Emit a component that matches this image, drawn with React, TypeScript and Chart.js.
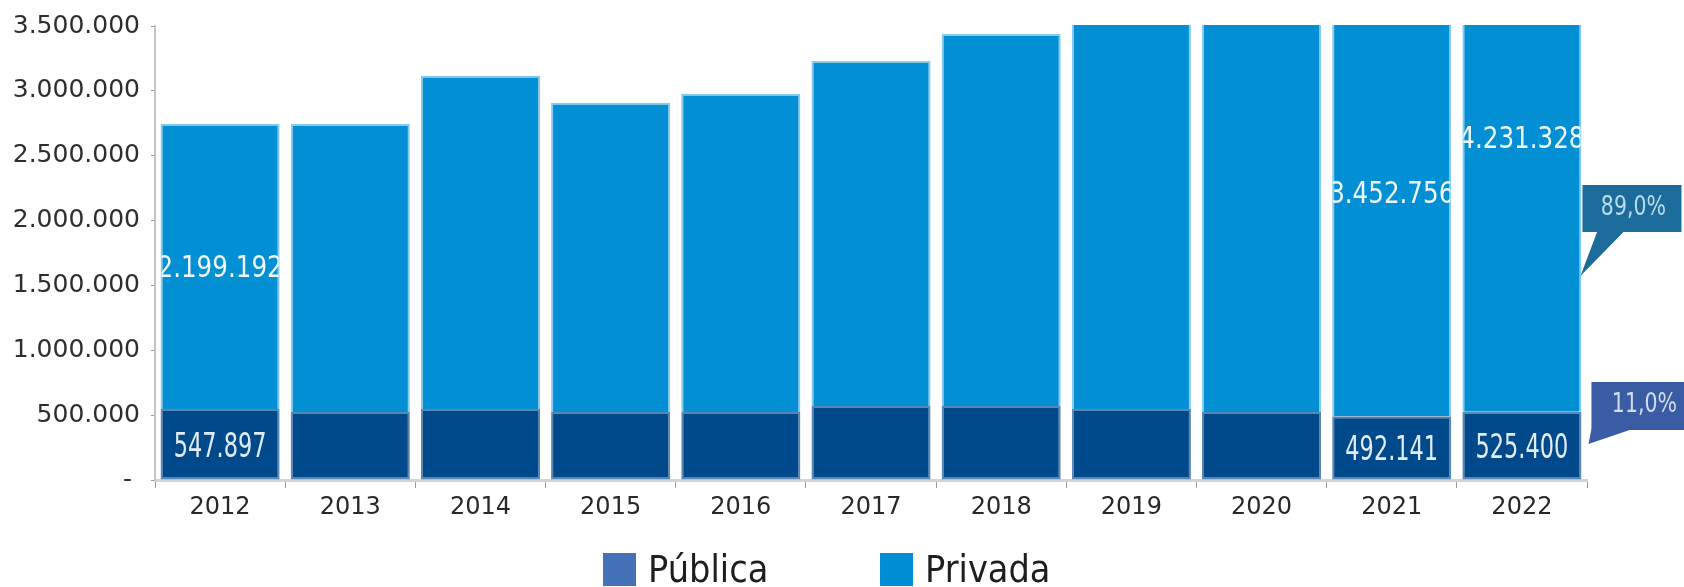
import React, { useEffect, useRef } from 'react';
import { Chart, registerables } from 'chart.js';

Chart.register(...registerables);

// ---- data ----
const years = ['2012', '2013', '2014', '2015', '2016', '2017', '2018', '2019', '2020', '2021', '2022'];
const seriesNames = ['Pública', 'Privada'];
const publica = [547897, 525000, 548000, 525000, 525000, 570000, 570000, 548000, 525000, 492141, 525400];
const privada = [2199192, 2220000, 2568000, 2384000, 2453000, 2661000, 2869000, 3085000, 3240000, 3452756, 4231328];
const labeledYears = ['2012', '2021', '2022'];
const yMin = 0;
const yMax = 3500000;
const yStep = 500000;

// ---- styles ----
const barColors = ['#004a8c', '#028fd4'];
const barBorders = ['#5a86b4', '#86cbee'];
const legendColors = ['#4472b8', '#008fd5'];
const FONT = '"DejaVu Sans", "Liberation Sans", sans-serif';

const fmt = (n: number) => Math.round(n).toString().replace(/\B(?=(\d{3})+(?!\d))/g, '.');
const pct = (a: number, b: number) => ((a / (a + b)) * 100).toFixed(1).replace('.', ',') + '%';

function drawStretched(
  ctx: CanvasRenderingContext2D,
  text: string,
  cx: number,
  cy: number,
  size: number,
  sx: number,
  color: string,
  align: CanvasTextAlign = 'center'
) {
  ctx.save();
  ctx.translate(cx, cy + size * 0.729 / 2);
  ctx.scale(sx, 1);
  ctx.font = `${size}px ${FONT}`;
  ctx.fillStyle = color;
  ctx.textAlign = align;
  ctx.textBaseline = 'alphabetic';
  ctx.fillText(text, 0, 0);
  ctx.restore();
}

const overlayPlugin = {
  id: 'overlay',
  afterDatasetsDraw(chart: any) {
    const ctx: CanvasRenderingContext2D = chart.ctx;
    const area = chart.chartArea;
    chart.data.datasets.forEach((ds: any, di: number) => {
      const meta = chart.getDatasetMeta(di);
      meta.data.forEach((bar: any, i: number) => {
        if (!labeledYears.includes(years[i])) return;
        const { x, y, base, width } = bar.getProps(['x', 'y', 'base', 'width'], true);
        const top = Math.min(y, base);
        const bottom = Math.max(y, base);
        const cy = (top + bottom) / 2;
        ctx.save();
        ctx.beginPath();
        ctx.rect(x - width / 2 + 1, Math.max(top, area.top), width - 2, bottom - Math.max(top, area.top));
        ctx.clip();
        if (di === 0) {
          drawStretched(ctx, fmt(ds.data[i]), x, cy, 34, 0.66, '#e2ecf7');
        } else {
          drawStretched(ctx, fmt(ds.data[i]), x, cy, 30, 0.82, '#eef8ff');
        }
        ctx.restore();
      });
    });

    // callouts for the last year
    const last = years.length - 1;
    const bar = chart.getDatasetMeta(1).data[last];
    const { x, width } = bar.getProps(['x', 'width'], true);
    const xr = x + width / 2;

    // Privada share callout
    ctx.save();
    ctx.fillStyle = '#1b6b9b';
    ctx.fillRect(xr + 1, 185, 99, 47);
    ctx.beginPath();
    ctx.moveTo(xr + 16, 231);
    ctx.lineTo(xr + 43, 231);
    ctx.lineTo(xr - 1, 276);
    ctx.closePath();
    ctx.fill();
    ctx.restore();
    drawStretched(ctx, pct(privada[last], publica[last]), xr + 52, 205, 27, 0.76, '#b8dcef');

    // Pública share callout
    ctx.save();
    ctx.fillStyle = '#3a5ca5';
    ctx.fillRect(xr + 10, 382, 100, 48);
    ctx.beginPath();
    ctx.moveTo(xr + 10, 429);
    ctx.lineTo(xr + 51, 429);
    ctx.lineTo(xr + 7, 444);
    ctx.closePath();
    ctx.fill();
    ctx.restore();
    drawStretched(ctx, pct(publica[last], privada[last]), xr + 63, 402, 27, 0.76, '#cfdcf2');
  },
  afterDraw(chart: any) {
    const ctx: CanvasRenderingContext2D = chart.ctx;
    const left = chart.chartArea.left;
    const items = [
      { x: left + 448, text: seriesNames[0], color: legendColors[0] },
      { x: left + 725, text: seriesNames[1], color: legendColors[1] },
    ];
    items.forEach((it) => {
      ctx.save();
      ctx.fillStyle = it.color;
      ctx.fillRect(it.x, 553, 33, 33);
      ctx.restore();
      drawStretched(ctx, it.text, it.x + 45, 569, 37, 0.91, '#1e1e1e', 'left');
    });
  },
};

export default function App() {
  const ref = useRef<HTMLCanvasElement>(null);

  useEffect(() => {
    if (!ref.current) return;
    const chart = new Chart(ref.current, {
      type: 'bar',
      data: {
        labels: years,
        datasets: [
          {
            label: seriesNames[0],
            data: publica,
            backgroundColor: barColors[0],
            borderColor: barBorders[0],
            borderWidth: 2,
            borderSkipped: false,
            barPercentage: 0.915,
            categoryPercentage: 1,
          },
          {
            label: seriesNames[1],
            data: privada,
            backgroundColor: barColors[1],
            borderColor: barBorders[1],
            borderWidth: 2,
            borderSkipped: 'start',
            barPercentage: 0.915,
            categoryPercentage: 1,
            clip: { top: 1, left: false, right: false, bottom: false } as any,
          },
        ],
      },
      options: {
        responsive: false,
        animation: false,
        layout: { padding: { left: 0, right: 97, top: 24, bottom: 0 } },
        plugins: {
          legend: { display: false },
          tooltip: { enabled: false },
        },
        scales: {
          x: {
            stacked: true,
            border: { color: '#d4d4d4', width: 3 },
            grid: { drawOnChartArea: false, tickLength: 8, tickColor: '#9a9a9a', offset: true },
            ticks: { color: '#282828', font: { family: FONT, size: 24 }, padding: 5 },
            afterFit: (s: any) => { s.height = 107; },
          },
          y: {
            stacked: true,
            min: yMin,
            max: yMax,
            border: { color: '#c4c4c4', width: 2 },
            grid: { drawOnChartArea: false, tickLength: 4, tickColor: '#999999' },
            ticks: {
              stepSize: yStep,
              color: '#2e2e2e',
              font: { family: FONT, size: 25 },
              padding: 11,
              callback: (v: any) => (Number(v) === 0 ? '- ' : fmt(Number(v))),
            },
            afterFit: (s: any) => { s.width = 155; },
          },
        },
      },
      plugins: [overlayPlugin],
    });
    return () => chart.destroy();
  }, []);

  return (
    <div style={{ position: 'fixed', left: 0, top: 0, width: 1684, height: 587, background: '#ffffff' }}>
      <canvas ref={ref} width={1684} height={587} style={{ display: 'block', width: 1684, height: 587 }} />
    </div>
  );
}
